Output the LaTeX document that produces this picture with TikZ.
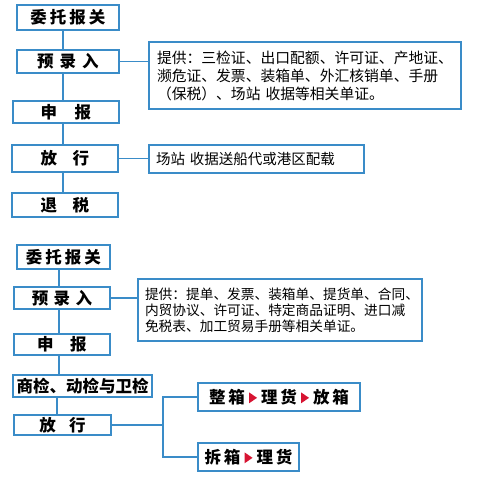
\documentclass[tikz,border=0pt]{standalone}
\usepackage{fontspec}
\setmainfont{Noto Sans CJK SC}
\newcommand\gap[1]{\hspace{#1}}
\definecolor{boxblue}{RGB}{58,140,200}
\definecolor{trired}{RGB}{215,20,50}
\newcommand\tri{\hspace{4pt}\tikz[baseline=0pt]\fill[trired] (0pt,0pt) -- (0pt,11pt) -- (8pt,5.5pt) -- cycle;\hspace{4pt}}
\begin{document}
\begin{tikzpicture}[x=1pt,y=-1pt,
  stepbox/.style={draw=boxblue,line width=1.3pt,inner sep=0pt,font=\fontsize{16.5}{16.5}\selectfont\bfseries},
  infobox/.style={draw=boxblue,line width=1.3pt,inner ysep=0pt,align=left},
  link/.style={draw=boxblue,line width=1.3pt}]
\useasboundingbox (0,0) rectangle (480,479);
\fill[white] (0,0) rectangle (480,479);
% top flow
\node[stepbox,minimum width=102pt,minimum height=25pt] (t1) at (68,17.5) {委\gap{3pt}托\gap{3pt}报\gap{3pt}关};
\node[stepbox,minimum width=102pt,minimum height=23pt] (t2) at (68,61.5) {预\gap{6pt}录\gap{6pt}入};
\node[stepbox,minimum width=106pt,minimum height=22pt] (t3) at (66,112) {申\gap{17.5pt}报\hspace{12pt}};
\node[stepbox,minimum width=106pt,minimum height=27pt] (t4) at (65,158.5) {放\gap{15.5pt}行\hspace{14pt}};
\node[stepbox,minimum width=106pt,minimum height=24pt] (t5) at (65,205) {退\gap{15.5pt}税\hspace{14pt}};
\coordinate (v1) at (63,0);
\draw[link] (t1.south -| v1) -- (t2.north -| v1);
\draw[link] (t2.south -| v1) -- (t3.north -| v1);
\draw[link] (t3.south -| v1) -- (t4.north -| v1);
\draw[link] (t4.south -| v1) -- (t5.north -| v1);
\node[infobox,minimum width=312pt,minimum height=67pt,text width=296pt,inner xsep=8pt,
  font=\fontsize{14.8}{18}\selectfont] (i1) at (305,75.5)
  {提供：三检证、出口配额、许可证、产地证、\\濒危证、发票、装箱单、外汇核销单、手册\\（保税）、场站 收据等相关单证。};
\node[infobox,minimum width=215pt,minimum height=28pt,text width=201pt,inner xsep=7pt,
  font=\fontsize{14.5}{16}\selectfont] (i2) at (256.5,159) {场站 收据送船代或港区配载};
\draw[link] (t2.east) -- (t2.east -| i1.west);
\draw[link] (t4.east) -- (t4.east -| i2.west);
% bottom flow
\node[stepbox,minimum width=93pt,minimum height=24pt] (b1) at (63.5,257) {委\gap{3pt}托\gap{3pt}报\gap{3pt}关};
\node[stepbox,minimum width=96pt,minimum height=22pt] (b2) at (62,298) {预\gap{5.5pt}录\gap{5.5pt}入};
\node[stepbox,minimum width=96pt,minimum height=21pt] (b3) at (62,344.5) {申\gap{16.5pt}报\hspace{9pt}};
\node[stepbox,minimum width=139pt,minimum height=22pt] (b4) at (82.5,386) {商检、动检与卫检};
\node[stepbox,minimum width=97pt,minimum height=20pt] (b5) at (62.5,425) {放\gap{13.5pt}行\hspace{11pt}};
\coordinate (v2) at (59,0);
\coordinate (v3) at (57,0);
\draw[link] (b1.south -| v2) -- (b2.north -| v2);
\draw[link] (b2.south -| v2) -- (b3.north -| v2);
\draw[link] (b3.south -| v2) -- (b4.north -| v2);
\draw[link] (b4.south -| v3) -- (b5.north -| v3);
\node[infobox,minimum width=284pt,minimum height=62pt,text width=270pt,inner xsep=7pt,
  font=\fontsize{13.7}{16}\selectfont] (i3) at (280,310)
  {提供：提单、发票、装箱单、提货单、合同、\\内贸协议、许可证、特定商品证明、进口减\\免税表、加工贸易手册等相关单证。};
\draw[link] (b2.east) -- (b2.east -| i3.west);
\node[stepbox,minimum width=162pt,minimum height=28pt] (c1) at (279,397) {整\gap{3pt}箱\tri 理\gap{3pt}货\tri 放\gap{3pt}箱};
\node[stepbox,minimum width=101pt,minimum height=28pt] (c2) at (248.5,457) {拆\gap{3pt}箱\tri 理\gap{3pt}货};
\coordinate (j) at (163,425);
\draw[link] (b5.east) -- (j);
\draw[link] (c1.west) -| (j) |- (c2.west);
\end{tikzpicture}
\end{document}
